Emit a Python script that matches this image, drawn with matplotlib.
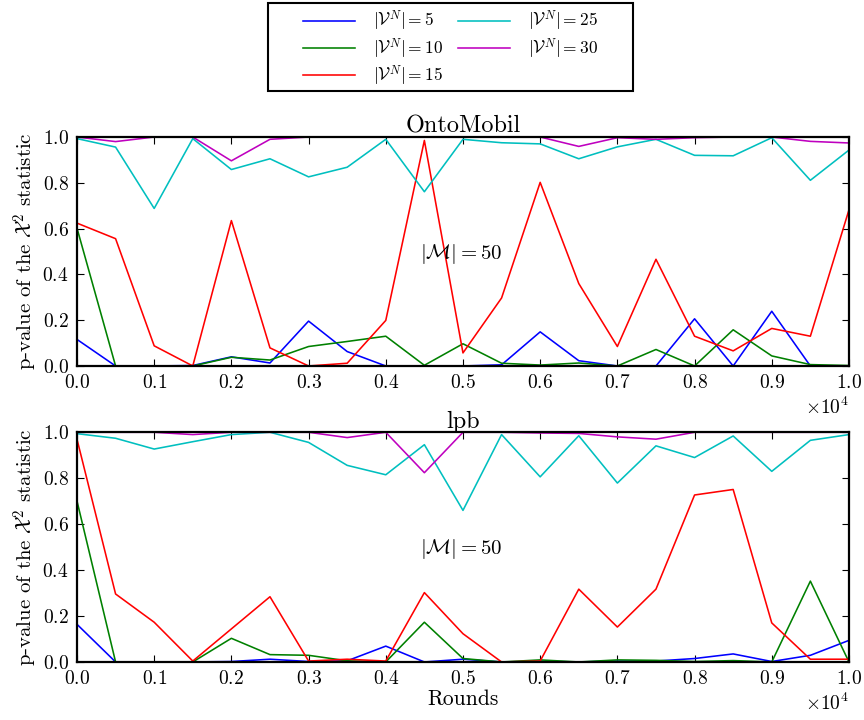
import numpy as np
import matplotlib
matplotlib.use("Agg")
import matplotlib.pyplot as plt
from matplotlib.patches import Rectangle

plt.rcParams['font.family'] = 'serif'
plt.rcParams['font.serif'] = ['cmr10']
plt.rcParams['mathtext.fontset'] = 'cm'
plt.rcParams['axes.formatter.use_mathtext'] = True
plt.rcParams['axes.unicode_minus'] = False

rounds = list(range(0, 10001, 500))

labels = [r'$|\mathcal{V}^N| = 5$', r'$|\mathcal{V}^N| = 10$', r'$|\mathcal{V}^N| = 15$',
          r'$|\mathcal{V}^N| = 25$', r'$|\mathcal{V}^N| = 30$']
colors = ['#0000ff', '#008000', '#ff0000', '#00bfbf', '#bf00bf']

# OntoMobil
onto_v5 = [0.116, 0.0, 0.0, 0.002, 0.040, 0.013, 0.196, 0.063, 0.0, 0.0, 0.0,
           0.005, 0.149, 0.023, 0.0, 0.0, 0.206, 0.0, 0.239, 0.0, 0.0]
onto_v10 = [0.602, 0.0, 0.0, 0.0, 0.038, 0.026, 0.085, 0.107, 0.130, 0.003, 0.097,
            0.012, 0.004, 0.013, 0.0, 0.072, 0.0, 0.158, 0.044, 0.006, 0.002]
onto_v15 = [0.624, 0.556, 0.088, 0.0, 0.635, 0.079, 0.0, 0.012, 0.199, 0.985, 0.057,
            0.297, 0.802, 0.360, 0.085, 0.466, 0.130, 0.066, 0.164, 0.130, 0.682]
onto_v25 = [0.993, 0.956, 0.688, 0.993, 0.858, 0.905, 0.826, 0.868, 0.990, 0.761, 0.990,
            0.975, 0.970, 0.905, 0.957, 0.990, 0.920, 0.918, 0.997, 0.811, 0.943]
onto_v30 = [1.0, 0.980, 1.0, 1.0, 0.896, 0.990, 1.0, 1.0, 1.0, 1.0, 1.0,
            1.0, 1.0, 0.959, 0.997, 0.990, 0.997, 1.0, 1.0, 0.981, 0.974]

# lpb
lpb_v5 = [0.164, 0.0, 0.0, 0.0, 0.002, 0.012, 0.002, 0.005, 0.069, 0.0, 0.012,
          0.0, 0.003, 0.0, 0.004, 0.004, 0.015, 0.035, 0.002, 0.029, 0.094]
lpb_v10 = [0.701, 0.0, 0.0, 0.0, 0.103, 0.032, 0.029, 0.005, 0.0, 0.173, 0.015,
           0.0, 0.009, 0.0, 0.009, 0.007, 0.002, 0.006, 0.0, 0.352, 0.0]
lpb_v15 = [0.970, 0.296, 0.173, 0.004, 0.144, 0.284, 0.004, 0.012, 0.004, 0.302, 0.123,
           0.0, 0.004, 0.317, 0.152, 0.317, 0.727, 0.751, 0.170, 0.012, 0.012]
lpb_v25 = [0.994, 0.974, 0.927, 0.959, 0.990, 1.0, 0.956, 0.856, 0.815, 0.946, 0.660,
           0.990, 0.806, 0.985, 0.779, 0.941, 0.890, 0.984, 0.830, 0.965, 0.990]
lpb_v30 = [1.0, 1.0, 1.0, 0.990, 1.0, 1.0, 1.0, 0.977, 1.0, 0.824, 1.0,
           1.0, 0.997, 0.995, 0.980, 0.970, 1.0, 1.0, 1.0, 1.0, 1.0]

panels = [("OntoMobil", [onto_v5, onto_v10, onto_v15, onto_v25, onto_v30]),
          ("lpb", [lpb_v5, lpb_v10, lpb_v15, lpb_v25, lpb_v30])]

fig = plt.figure(figsize=(8.64, 7.2), dpi=100)
ax_top = fig.add_axes([0.0891, 0.4917, 0.8935, 0.318])
ax_bot = fig.add_axes([0.0891, 0.0806, 0.8935, 0.319])

handles = []
for ax, (title, series) in zip([ax_top, ax_bot], panels):
    for s, c, lab in zip(series, colors, labels):
        h, = ax.plot(rounds, s, color=c, lw=1.15, label=lab, clip_on=False)
        if ax is ax_top:
            handles.append(h)
    ax.set_xlim(0, 10000)
    ax.set_ylim(0, 1.0)
    ax.set_xticks(np.arange(0, 10001, 1000))
    ax.set_yticks(np.arange(0, 1.01, 0.2))
    ax.ticklabel_format(axis='x', style='sci', scilimits=(0, 0), useMathText=True)
    ax.xaxis.get_offset_text().set_fontsize(14)
    ax.tick_params(direction='in', top=True, right=True, labelsize=14, length=5, width=0.8, pad=6)
    for sp in ax.spines.values():
        sp.set_linewidth(1.6)
    ax.set_title(title, fontsize=17.5, pad=3)
    ax.set_ylabel(r'p-value of the $\mathcal{X}^2$ statistic', fontsize=15, labelpad=2)
    ax.text(4440, 0.49, r'$|\mathcal{M}| = 50$', fontsize=15, va='center', ha='left')

ax_bot.set_xlabel('Rounds', fontsize=15.5, labelpad=1)

leg = fig.legend(handles=handles, labels=labels, loc='center',
                 bbox_to_anchor=(0.5214, 1 - 48.5 / 720), ncol=2, fontsize=12.5,
                 frameon=False, handlelength=3.0, handletextpad=1.0,
                 columnspacing=0.9, borderpad=0.2, labelspacing=0.18)
fig.add_artist(Rectangle((268 / 864, 1 - 91 / 720), 365 / 864, 88 / 720,
                         transform=fig.transFigure, fill=False, lw=1.5, ec='black'))

fig.savefig('out.png', dpi=100)
